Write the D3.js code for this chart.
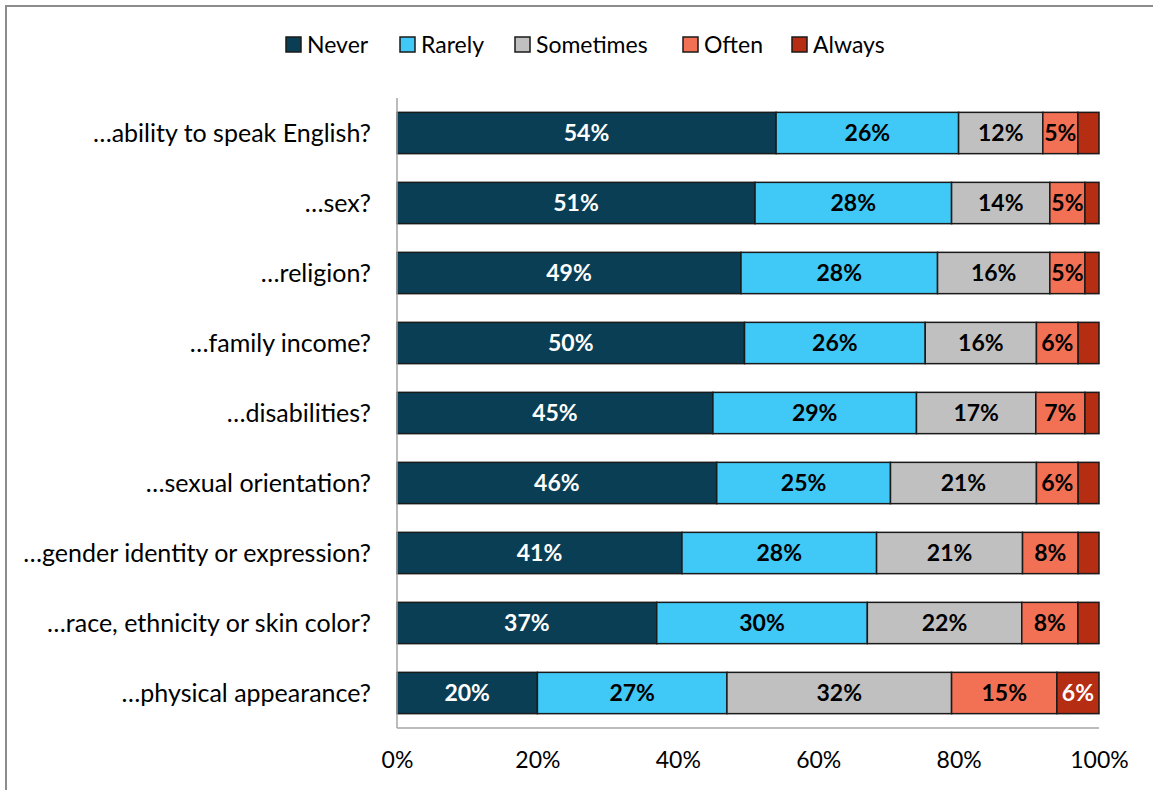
<!DOCTYPE html>
<html>
<head>
<meta charset="utf-8">
<script src="https://cdn.jsdelivr.net/npm/d3@7"></script>
<style>
  html, body { margin: 0; padding: 0; background: #fff; }
  svg { display: block; }
  text { font-family: Lato, "Open Sans", sans-serif; }
</style>
</head>
<body>
<div id="chart"></div>
<script>
// Survey items (top to bottom)
const categories = [
  "…ability to speak English?",
  "…sex?",
  "…religion?",
  "…family income?",
  "…disabilities?",
  "…sexual orientation?",
  "…gender identity or expression?",
  "…race, ethnicity or skin color?",
  "…physical appearance?"
];

// Response shares (%) per item
const never     = [54, 51, 49, 50, 45, 46, 41, 37, 20];
const rarely    = [26, 28, 28, 26, 29, 25, 28, 30, 27];
const sometimes = [12, 14, 16, 16, 17, 21, 21, 22, 32];
const often     = [5, 5, 5, 6, 7, 6, 8, 8, 15];
const always    = [3, 2, 2, 3, 2, 3, 3, 3, 6];

// Which "Always" segments carry a printed value
const showAlwaysLabel = [false, false, false, false, false, false, false, false, true];

const seriesNames = ["Never", "Rarely", "Sometimes", "Often", "Always"];
const seriesValues = [never, rarely, sometimes, often, always];
const colors = ["#0a3e54", "#40c8f6", "#c0c0c0", "#f27155", "#b52d13"];
const labelColors = ["#ffffff", "#000000", "#000000", "#000000", "#ffffff"];

const tickValues = [0, 0.2, 0.4, 0.6, 0.8, 1.0];

const W = 1153, H = 790;
const margin = { left: 397, right: 54, top: 98, bottom: 62 };

const rows = categories.map((c, i) => {
  const r = { category: c, index: i };
  seriesNames.forEach((s, k) => r[s] = seriesValues[k][i]);
  return r;
});

const stack = d3.stack().keys(seriesNames).offset(d3.stackOffsetExpand);
const layers = stack(rows);

const x = d3.scaleLinear().domain([0, 1]).range([margin.left, W - margin.right]);
const y = d3.scaleBand().domain(categories).range([margin.top, H - margin.bottom]).paddingInner(0.41).paddingOuter(0.205);

const svg = d3.select("#chart").append("svg").attr("width", W).attr("height", H);

// Outer frame
svg.append("path")
  .attr("d", `M6,${H} L6,6 L${W},6`)
  .attr("fill", "none").attr("stroke", "#8c8c8c").attr("stroke-width", 2);

// Value axis baseline
svg.append("line")
  .attr("x1", x(0)).attr("x2", x(1))
  .attr("y1", H - margin.bottom).attr("y2", H - margin.bottom)
  .attr("stroke", "#a6a6a6").attr("stroke-width", 1.5);

// Bars
const g = svg.append("g");
layers.forEach((layer, k) => {
  g.selectAll(null).data(layer).enter().append("rect")
    .attr("x", d => x(d[0]))
    .attr("y", d => y(d.data.category))
    .attr("width", d => x(d[1]) - x(d[0]))
    .attr("height", y.bandwidth())
    .attr("fill", colors[k])
    .attr("stroke", "#1a1a1a")
    .attr("stroke-width", 1.5);
});

// Segment value labels
layers.forEach((layer, k) => {
  g.selectAll(null)
    .data(layer.filter((d, i) => k < 4 || showAlwaysLabel[i]))
    .enter().append("text")
    .attr("x", d => (x(d[0]) + x(d[1])) / 2)
    .attr("y", d => y(d.data.category) + y.bandwidth() / 2)
    .attr("dy", "0.36em")
    .attr("text-anchor", "middle")
    .attr("font-size", 23)
    .attr("font-weight", "bold")
    .attr("fill", labelColors[k])
    .text(d => d.data[seriesNames[k]] + "%");
});

// Category axis line
svg.append("line")
  .attr("x1", x(0)).attr("x2", x(0))
  .attr("y1", margin.top).attr("y2", H - margin.bottom)
  .attr("stroke", "#a6a6a6").attr("stroke-width", 1.5);

// Category labels
svg.append("g").selectAll("text").data(categories).enter().append("text")
  .attr("x", 371)
  .attr("y", d => y(d) + y.bandwidth() / 2)
  .attr("dy", "0.36em")
  .attr("text-anchor", "end")
  .attr("font-size", 25)
  .attr("fill", "#000")
  .text(d => d);

// Value axis
const xAxis = d3.axisBottom(x).tickValues(tickValues).tickSize(0).tickPadding(0)
  .tickFormat(d3.format(".0%"));
const ax = svg.append("g").attr("transform", `translate(0,${H - margin.bottom})`).call(xAxis);
ax.select(".domain").remove();
ax.selectAll("text")
  .attr("y", 40)
  .attr("dy", "0")
  .attr("font-size", 23)
  .attr("font-family", "Lato, 'Open Sans', sans-serif")
  .attr("fill", "#000");

// Legend
const legendX = [286, 400, 515, 683, 792];
const legend = svg.append("g");
seriesNames.forEach((name, k) => {
  legend.append("rect")
    .attr("x", legendX[k]).attr("y", 37)
    .attr("width", 15).attr("height", 15)
    .attr("fill", colors[k]).attr("stroke", "#1a1a1a").attr("stroke-width", 1.5);
  legend.append("text")
    .attr("x", legendX[k] + 21).attr("y", 45)
    .attr("dy", "0.36em")
    .attr("font-size", 23)
    .attr("fill", "#000")
    .text(name);
});
</script>
</body>
</html>
